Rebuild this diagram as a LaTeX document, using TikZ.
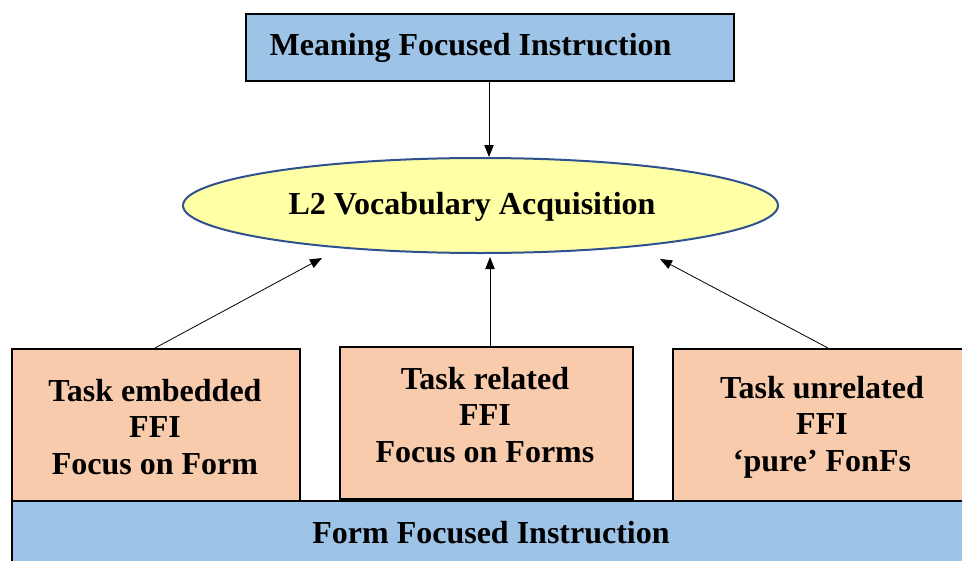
\documentclass[tikz,border=0pt]{standalone}
\usepackage{fontspec}
\setmainfont{Liberation Serif}
\usetikzlibrary{shapes.geometric,arrows.meta}
\definecolor{boxblue}{HTML}{9DC3E6}
\definecolor{boxpeach}{HTML}{F8CBAD}
\definecolor{ellfill}{HTML}{FFFFA6}
\definecolor{elldraw}{HTML}{2F528F}
\begin{document}
\begin{tikzpicture}[x=0.75pt,y=-0.75pt,
  lbl/.style={font=\fontsize{24}{27.5}\selectfont\bfseries, text=black},
  boxline/.style={draw=black, line width=1.5pt},
  conn/.style={-{Triangle[length=9pt,width=7pt]}, line width=0.6pt}]
\useasboundingbox (0,0) rectangle (962,560);
\clip (0,0) rectangle (962,560);
% top box
\node[boxline, fill=boxblue, minimum width=488*0.75pt, minimum height=67*0.75pt, inner sep=0pt, anchor=north west] (mfi) at (245,13) {};
\node[lbl, anchor=west] (mfit) at (265,48) {Meaning Focused Instruction};
% ellipse
\node[ellipse, draw=elldraw, line width=1.5pt, fill=ellfill, minimum width=595*0.75pt, minimum height=95*0.75pt, inner sep=0pt] (voc) at (480.5,205.5) {};
\node[lbl] (voct) at (472,207) {L2 Vocabulary Acquisition};
% bottom big box
\node[boxline, fill=boxblue, minimum width=1000*0.75pt, minimum height=80*0.75pt, inner sep=0pt, anchor=north west] (ffi) at (11,500) {};
\node[lbl] (ffit) at (491,533) {Form Focused Instruction};
% three boxes
\node[boxline, fill=boxpeach, minimum width=288*0.75pt, minimum height=152*0.75pt, inner sep=0pt, anchor=north west] (b1) at (11,348) {};
\node[boxline, fill=boxpeach, minimum width=293*0.75pt, minimum height=152*0.75pt, inner sep=0pt, anchor=north west] (b2) at (339,346) {};
\node[boxline, fill=boxpeach, minimum width=320*0.75pt, minimum height=152*0.75pt, inner sep=0pt, anchor=north west] (b3) at (672,348) {};
\node[lbl, align=center] (b1t) at (155,427) {Task embedded\\FFI\\Focus on Form};
\node[lbl, align=center] (b2t) at (485,415) {Task related\\FFI\\Focus on Forms};
\node[lbl, align=center] (b3t) at (822,427) {Task unrelated\\FFI\\‘pure’ FonFs};
% connectors
\coordinate (a1) at (155,348);
\coordinate (a1e) at (322,258);
\coordinate (a2) at (490,346);
\coordinate (a2e) at (490,257);
\coordinate (a3) at (828,348);
\coordinate (a3e) at (660,259);
\coordinate (m1) at (489,81);
\coordinate (m1e) at (489,157);
\draw[conn] (m1) -- (m1e);
\draw[conn] (a1) -- (a1e);
\draw[conn] (a2) -- (a2e);
\draw[conn] (a3) -- (a3e);
\end{tikzpicture}
\end{document}
